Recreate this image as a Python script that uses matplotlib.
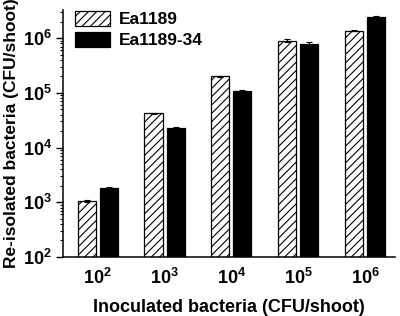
import numpy as np
import matplotlib
matplotlib.use("Agg")
import matplotlib.pyplot as plt
from matplotlib.ticker import LogLocator, NullFormatter, FuncFormatter

plt.rcParams['font.family'] = ['Liberation Sans', 'DejaVu Sans']
plt.rcParams['mathtext.fontset'] = 'custom'
plt.rcParams['mathtext.rm'] = 'Liberation Sans:bold'
plt.rcParams['mathtext.bf'] = 'Liberation Sans:bold'
plt.rcParams['mathtext.it'] = 'Liberation Sans:bold'
plt.rcParams['hatch.linewidth'] = 0.8

groups = ['$10^{2}$', '$10^{3}$', '$10^{4}$', '$10^{5}$', '$10^{6}$']
ea1189 = [1.05e3, 4.2e4, 2.0e5, 9.0e5, 1.38e6]
ea1189_err = [0.06e3, 1.5e3, 6e3, 6e4, 4e4]
ea1189_34 = [1.8e3, 2.25e4, 1.07e5, 7.9e5, 2.45e6]
ea1189_34_err = [0.07e3, 1.5e3, 5e3, 6e4, 8e4]

fig = plt.figure(figsize=(4.0, 3.16), dpi=100)
ax = fig.add_axes([0.1575, 0.187, 0.83, 0.782])

x = np.arange(len(groups))
w = 0.27
off = 0.165
ax.bar(x - off, ea1189, w, color='white', edgecolor='black', hatch='////',
       linewidth=0.9, yerr=ea1189_err, capsize=2,
       error_kw=dict(elinewidth=0.8, capthick=0.8), label='Ea1189')
ax.bar(x + off, ea1189_34, w, color='black', edgecolor='black',
       linewidth=0.9, yerr=ea1189_34_err, capsize=2,
       error_kw=dict(elinewidth=0.8, capthick=0.8), label='Ea1189-34')

ax.set_yscale('log')
ax.set_ylim(1e2, 3.3e6)
ax.set_xlim(-0.52, 4.45)
ax.set_xticks(x)
ax.set_xticklabels(groups, fontsize=13)
ax.tick_params(axis='x', length=0, pad=8)
ax.yaxis.set_major_locator(LogLocator(base=10, numticks=10))
ax.yaxis.set_major_formatter(FuncFormatter(lambda v, p: '$10^{%d}$' % round(np.log10(v))))
ax.yaxis.set_minor_locator(LogLocator(base=10, subs=np.arange(2, 10), numticks=10))
ax.yaxis.set_minor_formatter(NullFormatter())
ax.tick_params(axis='y', which='major', direction='out', length=5, width=1, labelsize=13, pad=3)
ax.tick_params(axis='y', which='minor', direction='out', length=2.5, width=0.8)

ax.spines['top'].set_visible(False)
ax.spines['right'].set_visible(False)
ax.spines['left'].set_linewidth(1.1)
ax.spines['bottom'].set_linewidth(1.1)

ax.set_ylabel('Re-isolated bacteria (CFU/shoot)', fontsize=12.5, fontweight='bold', labelpad=3)
ax.set_xlabel('Inoculated bacteria (CFU/shoot)', fontsize=13, fontweight='bold', labelpad=8)

leg = ax.legend(loc='upper left', bbox_to_anchor=(0.0, 1.045), frameon=False,
                prop=dict(size=12.5, weight='bold'), handlelength=2.0,
                handleheight=0.95, handletextpad=0.5, labelspacing=0.25,
                borderaxespad=0.3)

fig.savefig('out.png', dpi=100)
